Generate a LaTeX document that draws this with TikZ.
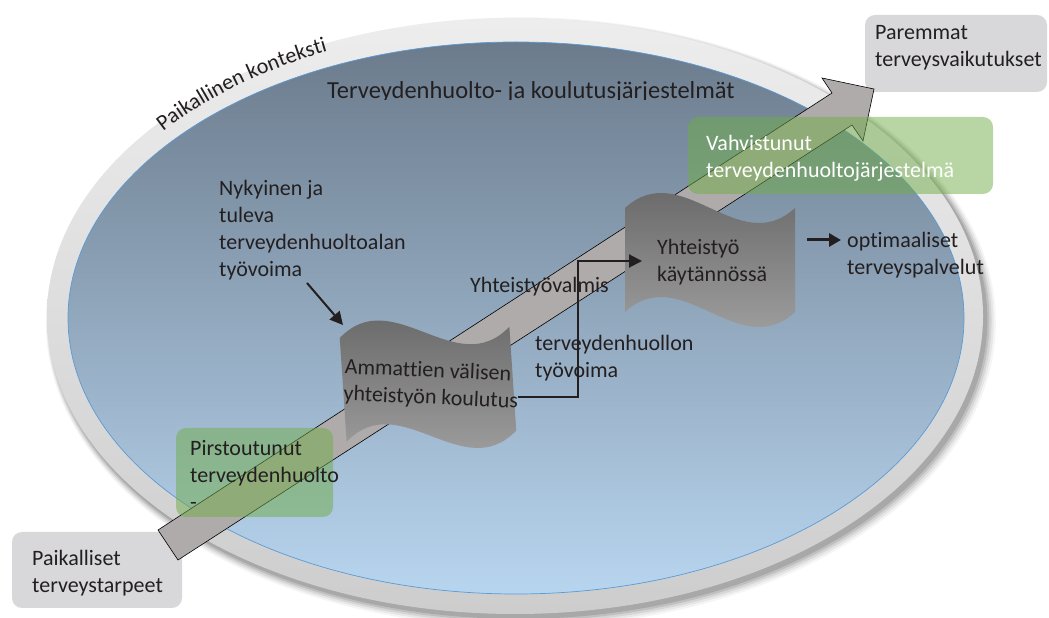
\documentclass[tikz,border=0pt]{standalone}
\usepackage{fontspec}
\setmainfont{Carlito}[Ligatures=NoCommon]
\usetikzlibrary{arrows.meta,decorations.text}
\definecolor{txt}{HTML}{231F20}
\definecolor{boxgray}{HTML}{D8D8DB}
\definecolor{grn}{HTML}{70AD47}
\definecolor{arrowgray}{HTML}{AFABAB}
\definecolor{ringtop}{HTML}{EDEDED}
\definecolor{ringbot}{HTML}{CDCDCD}
\definecolor{bluetop}{HTML}{6B7B8C}
\definecolor{bluemid}{HTML}{9AB4CC}
\definecolor{bluebot}{HTML}{B8D5EF}
\definecolor{blueline}{HTML}{5B9BD5}
\definecolor{wavetop}{HTML}{5F5F5F}
\definecolor{wavebot}{HTML}{A8A8A8}
\begin{document}
\begin{tikzpicture}[x=1pt,y=1pt,
  lbl/.style={font=\fontsize{22}{27}\selectfont, text=txt, align=left, inner sep=0pt, anchor=north west},
  graybox/.style={fill=boxgray, rounded corners=10pt},
  greenbox/.style={fill=grn, fill opacity=0.5, rounded corners=10pt},
  wavefill/.style={top color=wavetop, bottom color=wavebot},
  conn/.style={draw=txt, line width=2pt, -{Triangle[length=13pt,width=13pt]}}]
\useasboundingbox (0,0) rectangle (1049,618);

% ring shadow
\foreach \d/\o in {7/0.04,5.5/0.06,4/0.08,2.5/0.10,1/0.12}
  \fill[black, opacity=\o] (518+0.4*\d,298.5-0.4*\d) ellipse [x radius=468pt+\d pt, y radius=298pt+\d pt];
% ring
\path[top color=ringtop, bottom color=ringbot] (515,302) ellipse [x radius=468pt, y radius=298pt];
% inner system ellipse
\path[top color=bluetop, middle color=bluemid, bottom color=bluebot] (516,300) ellipse [x radius=448pt, y radius=276pt];
\draw[blueline, line width=0.7pt] (516,300) ellipse [x radius=448pt, y radius=276pt];

% title (clipped at bottom like the reference)
\begin{scope}
  \clip (300,518.5) rectangle (780,560);
  \node[lbl, font=\fontsize{24.5}{29}\selectfont] (title) at (327,536.5) {Terveydenhuolto- ja koulutusjärjestelmät};
\end{scope}

% curved label on the ring
\path[decorate, decoration={text along path, text align=left,
   text={|\fontsize{22}{27}\selectfont\color{txt}|Paikallinen konteksti}}]
  (515.5,302) ++(140.6:456pt and 290.6pt)
  arc[start angle=140.6, end angle=100, x radius=456pt, y radius=290.6pt];

% gray end boxes
\path[graybox] (12,10) rectangle (182,86);
\path[graybox] (865,526) rectangle (1047,603);

% big arrow
\coordinate (tail) at (168,73);
\coordinate (tip) at (874,529);
\draw[fill=arrowgray, draw=black, line width=0.6pt, line join=miter]
  (158,88) -- (832,525) -- (822,540) -- (tip) -- (863,477) -- (852,493) -- (178,58) -- cycle;

% wave shapes
\coordinate (w1) at (428,233.75);
\coordinate (w2) at (710,358);
\begin{scope}[shift={(w1)}, rotate=3.8]
  \path[wavefill] (-85,52) .. controls (-28.3,104) and (28.3,0) .. (85,52) -- (85,-52)
     .. controls (28.3,-104) and (-28.3,0) .. (-85,-52) -- cycle;
\end{scope}
\begin{scope}[shift={(w2)}]
  \path[wavefill] (-85,52) .. controls (-28.3,104) and (28.3,0) .. (85,52) -- (85,-52)
     .. controls (28.3,-104) and (-28.3,0) .. (-85,-52) -- cycle;
\end{scope}

% green boxes
\path[greenbox] (688,424) rectangle (993,501);
\path[greenbox] (176,101) rectangle (333,190);

% texts
\node[lbl] (paik) at (32,68) {Paikalliset\\terveystarpeet};
\node[lbl] (parem) at (875,593) {Paremmat\\terveysvaikutukset};
\node[lbl, text=white] (vahv) at (706,483) {Vahvistunut\\terveydenhuoltojärjestelmä};
\node[lbl] (pirst) at (190,178) {Pirstoutunut\\terveydenhuolto\\-};
\node[lbl] (nyk) at (219,438) {Nykyinen ja\\tuleva\\terveydenhuoltoalan\\työvoima};
\node[lbl] (valm) at (470,341) {Yhteistyövalmis};
\node[lbl] (tyov) at (535,283) {terveydenhuollon\\työvoima};
\node[lbl] (kayt) at (657,379) {Yhteistyö\\käytännössä};
\node[lbl] (opt) at (847,386) {optimaaliset\\terveyspalvelut};
\node[lbl, rotate=-2.5] (amm) at (345,260) {Ammattien välisen\\yhteistyön koulutus};

% connectors
\coordinate (n1) at (307,335);
\coordinate (n2) at (343,293);
\draw[conn] (n1) -- (n2);
\coordinate (e1) at (518,221);
\coordinate (e2) at (642,357);
\draw[conn, line join=miter] (e1) -- (578,221) |- (e2);
\coordinate (o1) at (807,378);
\coordinate (o2) at (841,378);
\draw[draw=txt, line width=3pt, -{Triangle[length=12pt,width=13pt]}] (o1) -- (o2);
\end{tikzpicture}
\end{document}
